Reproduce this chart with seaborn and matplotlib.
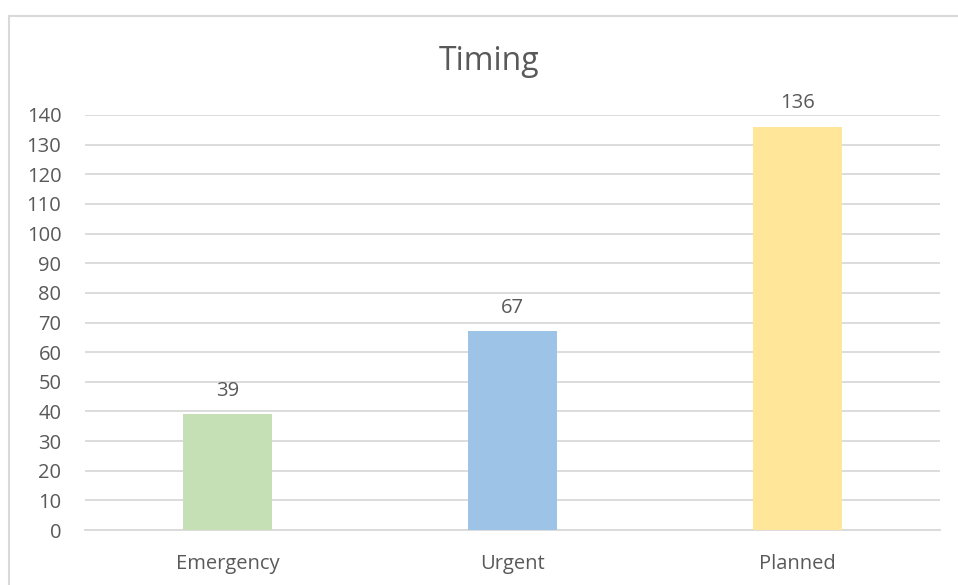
import matplotlib
matplotlib.use("Agg")
import matplotlib.pyplot as plt
import numpy as np
import pandas as pd
import seaborn as sns
from matplotlib.patches import Rectangle

categories = ["Emergency", "Urgent", "Planned"]
counts = [39, 67, 136]
bar_colors = ["#C5E0B4", "#9DC3E6", "#FFE699"]
y_ticks = list(range(0, 141, 10))

sns.set_theme(style="white")
plt.rcParams["font.family"] = ["Open Sans", "DejaVu Sans"]

text_color = "#595959"
grid_color = "#D9D9D9"

df = pd.DataFrame({"timing": categories, "count": counts})

fig = plt.figure(figsize=(9.58, 5.85), dpi=100)
ax = fig.add_axes([85 / 958, 1 - 530 / 585, (940 - 85) / 958, (530 - 115) / 585])

sns.barplot(data=df, x="timing", y="count", hue="timing", palette=bar_colors,
            saturation=1, linewidth=0, legend=False, width=0.31, ax=ax, zorder=3)

ax.set_ylim(0, 140)
ax.set_yticks(y_ticks)
ax.set_xlim(-0.5, 2.5)
ax.yaxis.grid(True, color=grid_color, linewidth=1.3, zorder=0)
ax.set_axisbelow(True)
for side in ("top", "right", "left"):
    ax.spines[side].set_visible(False)
ax.spines["bottom"].set_color(grid_color)
ax.spines["bottom"].set_linewidth(1.3)
ax.tick_params(axis="both", length=0, labelsize=14.5, colors=text_color)
ax.tick_params(axis="y", pad=17)
ax.tick_params(axis="x", pad=17)
ax.set_xlabel("")
ax.set_ylabel("")

for cont in ax.containers:
    ax.bar_label(cont, padding=10, fontsize=14.5, color=text_color)

fig.text(489 / 958, 1 - 61 / 585, "Timing", ha="center", va="center",
         fontsize=23, color=text_color)

# chart frame (cropped at right/bottom like the reference)
fig.patches.append(Rectangle((9 / 958, -0.1), 1.2, 1 - 16 / 585 + 0.1,
                             transform=fig.transFigure, fill=False,
                             edgecolor="#D9D9D9", linewidth=1.5))

fig.savefig("out.png", dpi=100)
